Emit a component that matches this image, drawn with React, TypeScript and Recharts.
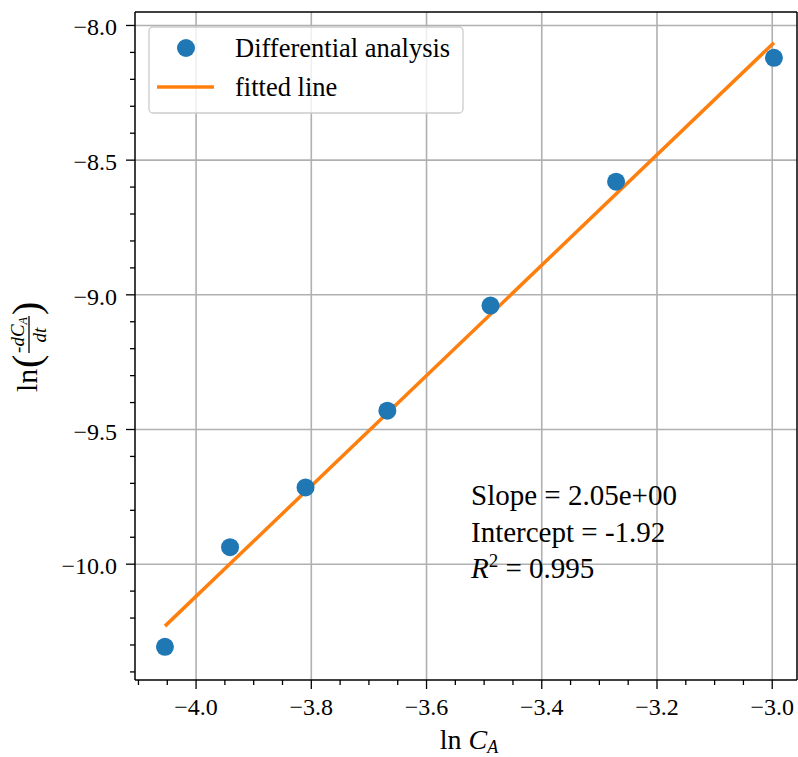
import { ComposedChart, Scatter, Line, XAxis, YAxis, CartesianGrid, ReferenceLine } from 'recharts';

// measured points (ln C_A, ln(-dC_A/dt))
const lnCA = [-4.054, -3.941, -3.81, -3.668, -3.489, -3.271, -2.997];
const lnRate = [-10.307, -9.937, -9.715, -9.43, -9.04, -8.58, -8.12];

// fitted line end points
const fitX = [-4.054, -2.997];
const fitY = [-10.23, -8.064];

const xMajor = [-4.0, -3.8, -3.6, -3.4, -3.2, -3.0];
const xTicks = [-4.1, -4.05, -4.0, -3.95, -3.9, -3.85, -3.8, -3.75, -3.7, -3.65, -3.6, -3.55, -3.5, -3.45, -3.4, -3.35, -3.3, -3.25, -3.2, -3.15, -3.1, -3.05, -3.0];
const yMajor = [-10.0, -9.5, -9.0, -8.5, -8.0];
const yTicks = [-10.4, -10.3, -10.2, -10.1, -10.0, -9.9, -9.8, -9.7, -9.6, -9.5, -9.4, -9.3, -9.2, -9.1, -9.0, -8.9, -8.8, -8.7, -8.6, -8.5, -8.4, -8.3, -8.2, -8.1, -8.0];

const X_DOMAIN: [number, number] = [-4.106, -2.957];
const Y_DOMAIN: [number, number] = [-10.43, -7.95];

const points = lnCA.map((x, i) => ({ x, y: lnRate[i] }));
const fit = fitX.map((x, i) => ({ x, y: fitY[i] }));

const FONT = '"Liberation Serif", serif';
const fmt = (v: number) => v.toFixed(1).replace('-', '\u2212');
const isIn = (list: number[], v: number) => list.some((m) => Math.abs(m - v) < 1e-6);

const XTick = (props: any) => {
  const { x, y, payload } = props;
  const major = isIn(xMajor, payload.value);
  return (
    <g>
      <line x1={x} y1={y} x2={x} y2={y + (major ? 9 : 5)} stroke="#000" strokeWidth={1.3} />
      {major && (
        <text x={x} y={y + 35} textAnchor="middle" fontFamily={FONT} fontSize={24} fill="#000">
          {fmt(payload.value)}
        </text>
      )}
    </g>
  );
};

const YTick = (props: any) => {
  const { x, y, payload } = props;
  const major = isIn(yMajor, payload.value);
  return (
    <g>
      <line x1={x} y1={y} x2={x - (major ? 9 : 5)} y2={y} stroke="#000" strokeWidth={1.3} />
      {major && (
        <text x={x - 18} y={y + 10} textAnchor="end" fontFamily={FONT} fontSize={24} fill="#000">
          {fmt(payload.value)}
        </text>
      )}
    </g>
  );
};

export default function App() {
  return (
    <div style={{ position: 'absolute', left: 0, top: 0, width: 798, height: 757, background: '#fff' }}>
      <ComposedChart width={798} height={757} margin={{ top: 12, right: 1, bottom: 0, left: 0 }}>
        <CartesianGrid
          stroke="#b0b0b0"
          strokeWidth={1.6}
          horizontalValues={yMajor}
          verticalValues={xMajor}
        />
        <XAxis
          type="number"
          dataKey="x"
          domain={X_DOMAIN}
          allowDataOverflow
          ticks={xTicks}
          interval={0}
          height={77}
          tickLine={false}
          tickSize={0}
          tickMargin={0}
          tick={<XTick />}
          axisLine={{ stroke: '#000', strokeWidth: 1.5 }}
        />
        <YAxis
          type="number"
          dataKey="y"
          domain={Y_DOMAIN}
          allowDataOverflow
          ticks={yTicks}
          interval={0}
          width={135}
          tickLine={false}
          tickSize={0}
          tickMargin={0}
          tick={<YTick />}
          axisLine={{ stroke: '#000', strokeWidth: 1.5 }}
        />
        <ReferenceLine y={Y_DOMAIN[1]} stroke="#000" strokeWidth={1.5} />
        <ReferenceLine x={X_DOMAIN[1]} stroke="#000" strokeWidth={1.5} />
        <Scatter
          data={points}
          dataKey="y"
          isAnimationActive={false}
          shape={(p: any) => <circle cx={p.cx} cy={p.cy} r={9} fill="#1f77b4" />}
        />
        <Line
          data={fit}
          dataKey="y"
          type="linear"
          stroke="#ff7f0e"
          strokeWidth={3.5}
          dot={false}
          activeDot={false}
          isAnimationActive={false}
        />
      </ComposedChart>

      <svg
        width={798}
        height={757}
        style={{ position: 'absolute', left: 0, top: 0, pointerEvents: 'none' }}
        fontFamily={FONT}
      >
        {/* legend */}
        <rect x={149} y={27} width={314} height={86} rx={4} fill="#fff" fillOpacity={0.8} stroke="#cccccc" strokeWidth={1.3} />
        <circle cx={186} cy={48} r={9} fill="#1f77b4" />
        <line x1={157} y1={87} x2={214} y2={87} stroke="#ff7f0e" strokeWidth={3.5} />
        <text x={235} y={57} fontSize={26.5}>Differential analysis</text>
        <text x={235} y={96} fontSize={26.5}>fitted line</text>

        {/* fit stats */}
        <text x={471} y={505} fontSize={29}>Slope = 2.05e+00</text>
        <text x={471} y={542} fontSize={29}>Intercept = -1.92</text>
        <text x={471} y={578} fontSize={29}>
          <tspan fontStyle="italic">R</tspan>
          <tspan fontSize={19} dy={-11}>2</tspan>
          <tspan dy={11}> = 0.995</tspan>
        </text>

        {/* x label */}
        <text x={469} y={749} fontSize={28} textAnchor="middle">
          ln <tspan fontStyle="italic">C</tspan>
          <tspan fontSize={18} fontStyle="italic" dy={4}>A</tspan>
        </text>

        {/* y label */}
        <g transform="translate(37, 392) rotate(-90)">
          <text x={0} y={0} fontSize={30}>ln</text>
          <text x={24} y={3} fontSize={40}>(</text>
          <text x={57} y={-13} fontSize={19} fontStyle="italic" textAnchor="middle">
            -dC<tspan fontSize={12} dy={3}>A</tspan>
          </text>
          <line x1={39} y1={-8} x2={76} y2={-8} stroke="#000" strokeWidth={1.3} />
          <text x={57} y={9} fontSize={19} fontStyle="italic" textAnchor="middle">dt</text>
          <text x={77} y={3} fontSize={40}>)</text>
        </g>
      </svg>
    </div>
  );
}
